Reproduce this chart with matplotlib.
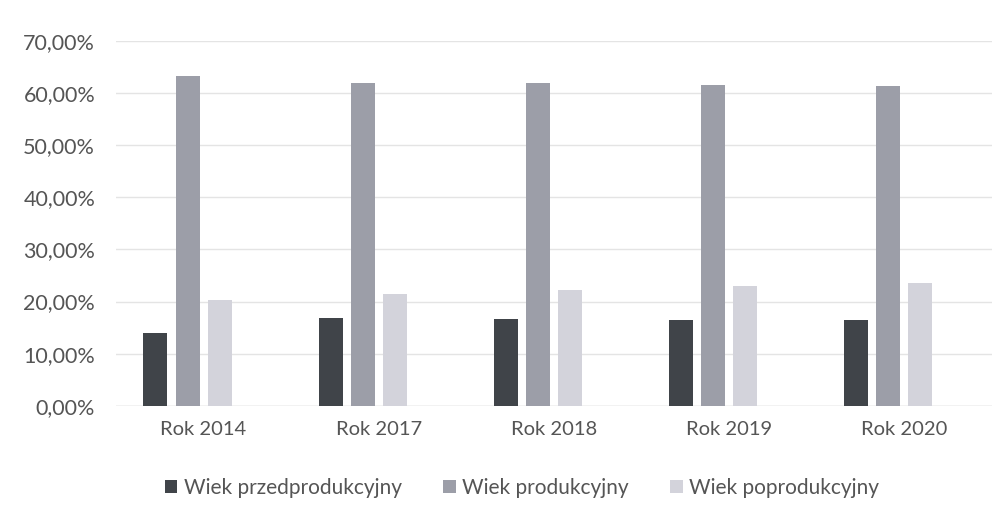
import numpy as np
import matplotlib

matplotlib.use("Agg")
import matplotlib.pyplot as plt  # noqa: E402
from matplotlib.ticker import FuncFormatter  # noqa: E402

# data (percent)
years = ["Rok 2014", "Rok 2017", "Rok 2018", "Rok 2019", "Rok 2020"]
series_names = ["Wiek przedprodukcyjny", "Wiek produkcyjny", "Wiek poprodukcyjny"]
przed = [14.0, 16.8, 16.6, 16.5, 16.5]
prod = [63.3, 62.0, 62.0, 61.6, 61.4]
poprod = [20.2, 21.4, 22.2, 23.0, 23.5]

colors = ["#404449", "#9c9ea8", "#d3d3db"]
text_col = "#555555"

plt.rcParams["font.family"] = ["Lato", "DejaVu Sans"]

fig = plt.figure(figsize=(10.04, 5.15), dpi=100)
ax = fig.add_axes([0.1155, 0.2122, 0.8725, 0.7082])

x = np.arange(len(years))
slot = 0.183   # Excel cluster has an empty 4th slot, so bars sit left of centre
width = 0.137
for i, (vals, name) in enumerate(zip([przed, prod, poprod], series_names)):
    ax.bar(x + (i - 1.5) * slot, vals, width=width, color=colors[i], label=name, zorder=3)

ax.set_xlim(-0.5, len(years) - 0.5)
ax.set_ylim(0, 70)
ax.set_yticks(np.arange(0, 71, 10))
ax.yaxis.set_major_formatter(FuncFormatter(lambda v, _: f"{v:.2f}%".replace(".", ",")))
ax.set_xticks(x)
ax.set_xticklabels(years)

ax.grid(axis="y", color="#e4e4e4", linewidth=1, zorder=0)
for s in ax.spines.values():
    s.set_visible(False)
ax.axhline(0, color="#d9d9d9", linewidth=1, zorder=2)
ax.tick_params(axis="y", length=0, labelsize=15.5, colors=text_col, pad=15)
ax.tick_params(axis="x", length=0, labelsize=14.5, colors=text_col, pad=11)

fig.legend(loc="center", bbox_to_anchor=(0.52, 0.052), ncol=3, frameon=False,
           fontsize=15, labelcolor=text_col, handlelength=0.6, handleheight=0.6,
           handletextpad=0.3, columnspacing=2.0)

fig.savefig("out.png", dpi=100)
